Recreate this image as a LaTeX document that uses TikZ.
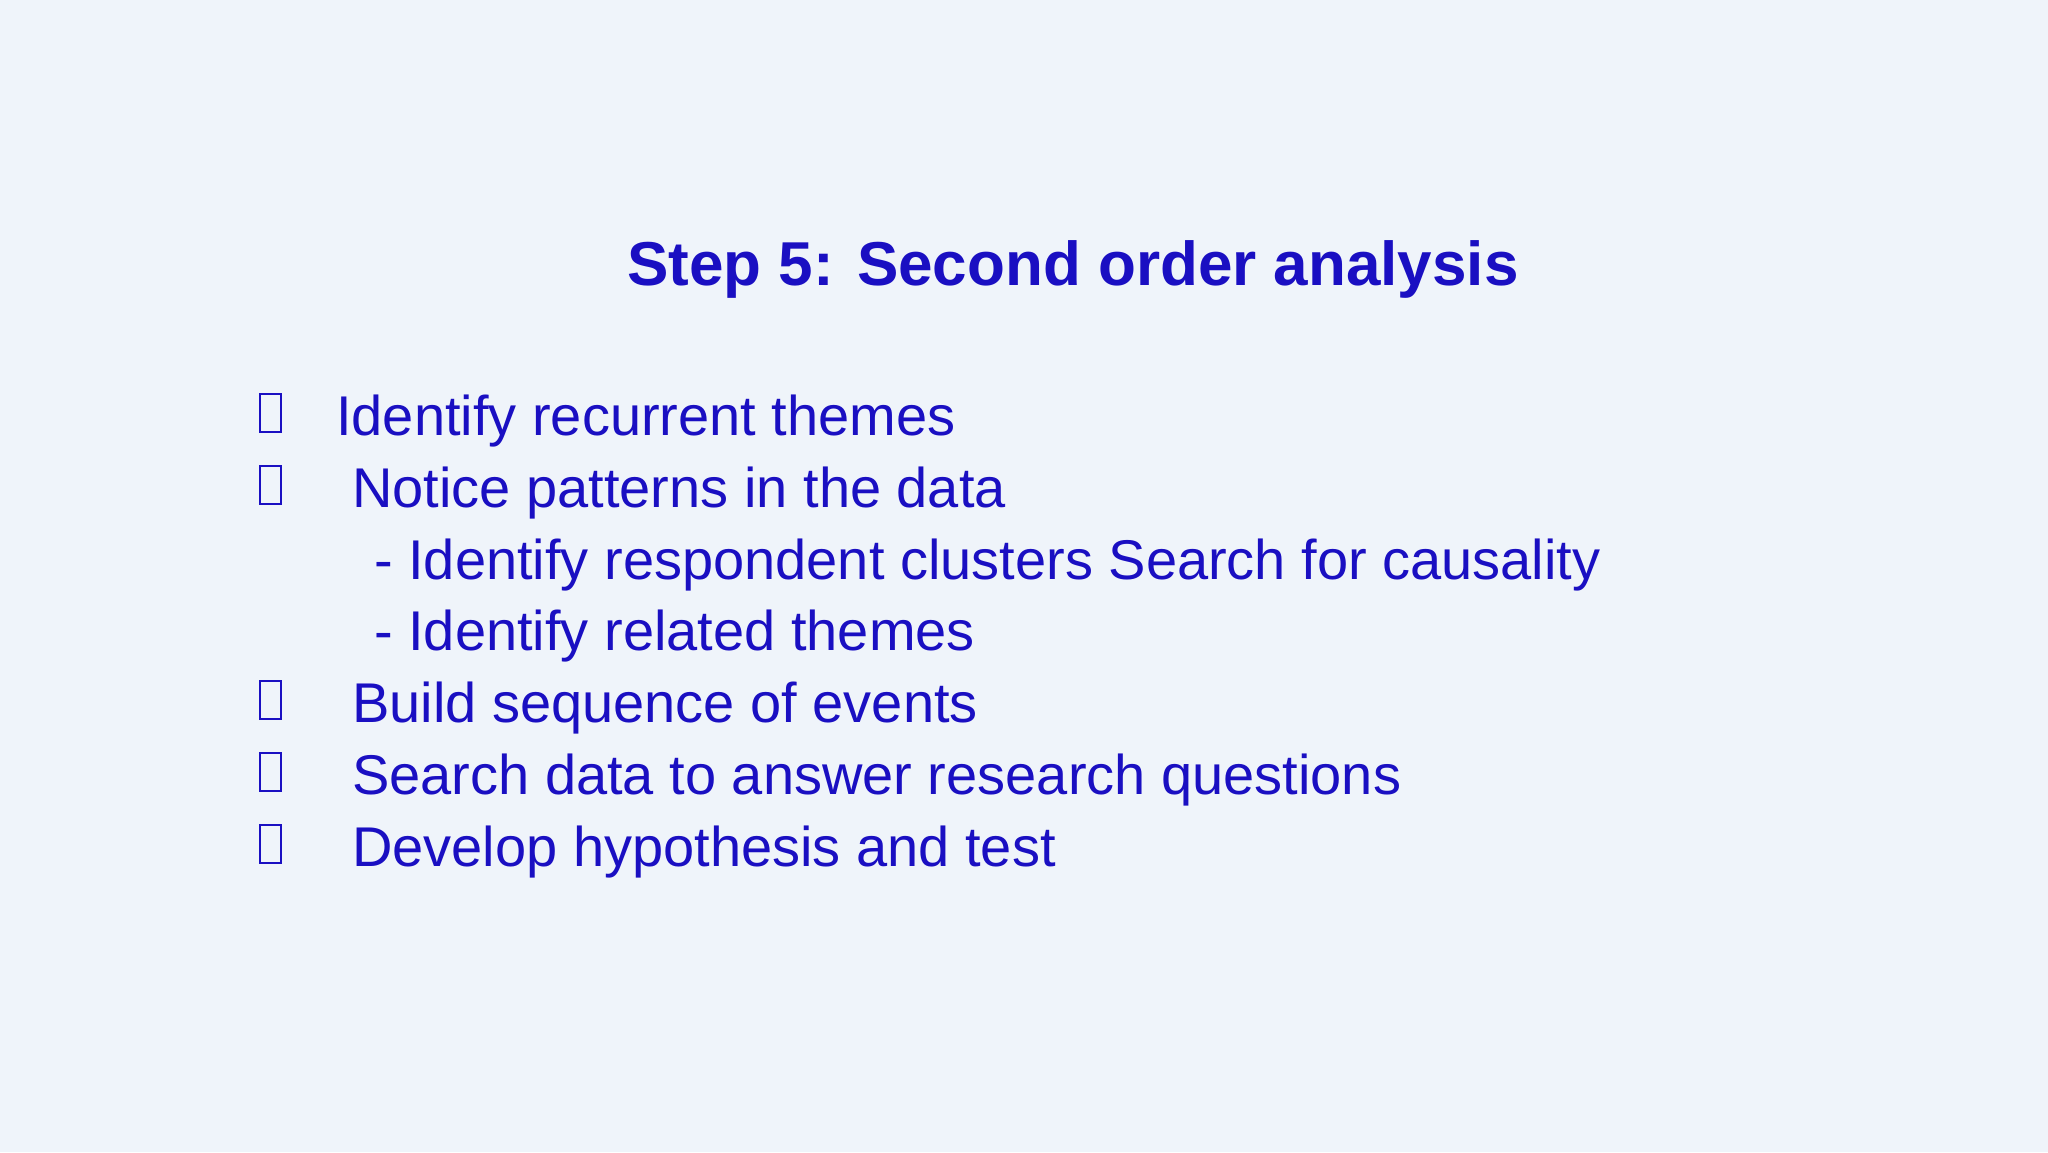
\documentclass[tikz,border=0pt]{standalone}
\usepackage{fontspec}
\setmainfont{Liberation Sans}
\definecolor{ink}{HTML}{1A0FC2}
\definecolor{bg}{HTML}{EFF4FA}
\begin{document}
\begin{tikzpicture}[x=1pt,y=-1pt,
  txt/.style={anchor=base west,inner sep=0pt,text=ink,font=\fontsize{56}{60}\selectfont},
  box/.style={draw=ink,line width=2.2pt,minimum width=21pt,minimum height=38pt,inner sep=0pt,anchor=south west}]
\fill[bg] (0,0) rectangle (2048,1152);
\useasboundingbox (0,0) rectangle (2048,1152);
\node[anchor=base,inner sep=0pt,text=ink,font=\fontsize{62}{66}\selectfont\bfseries] (title) at (1073,285) {Step 5: Second order analysis};
\node[box] (b1) at (259,433) {};
\node[txt] (t1) at (336,435) {Identify recurrent themes};
\node[box] (b2) at (259,505) {};
\node[txt] (t2) at (352,507) {Notice patterns in the data};
\node[txt] (t3) at (374,579) {- Identify respondent clusters Search for causality};
\node[txt] (t4) at (374,650) {- Identify related themes};
\node[box] (b5) at (259,720) {};
\node[txt] (t5) at (352,722) {Build sequence of events};
\node[box] (b6) at (259,792) {};
\node[txt] (t6) at (352,794) {Search data to answer research questions};
\node[box] (b7) at (259,864) {};
\node[txt] (t7) at (352,866) {Develop hypothesis and test};
\end{tikzpicture}
\end{document}
